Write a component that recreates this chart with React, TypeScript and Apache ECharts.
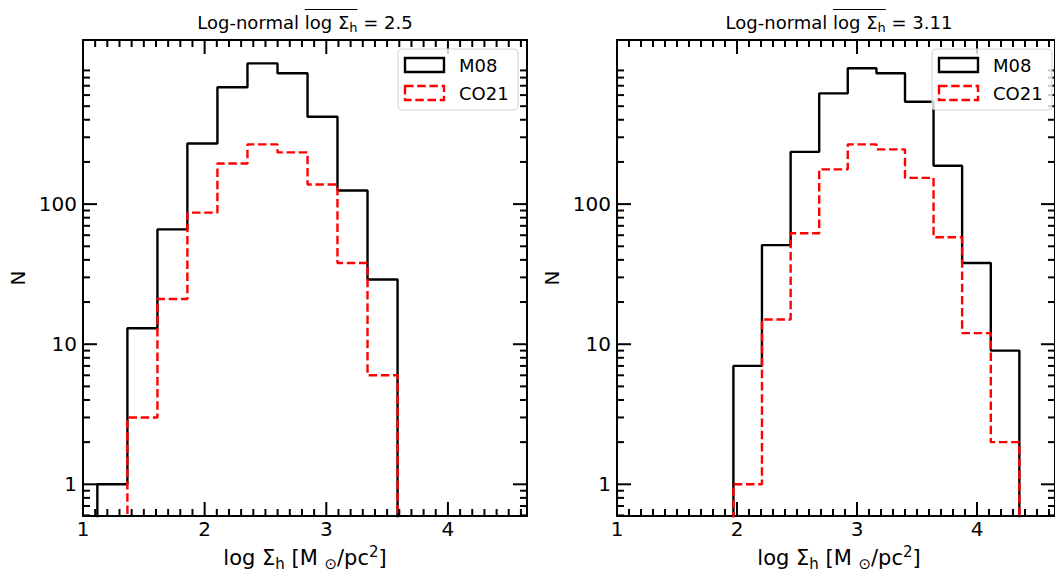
import React, { useEffect, useRef } from "react";
import * as echarts from "echarts";

// ---------- data ----------
const LEFT_EDGES = [1.118, 1.365, 1.612, 1.858, 2.105, 2.352, 2.599, 2.846, 3.092, 3.339, 3.586];
const LEFT_M08 = [1, 13, 66, 271, 682, 1010, 859, 420, 125, 29];
const LEFT_CO21 = [0, 3, 21, 87, 195, 267, 234, 138, 38, 6];

const RIGHT_EDGES = [1.970, 2.208, 2.447, 2.685, 2.923, 3.162, 3.400, 3.638, 3.876, 4.115, 4.353];
const RIGHT_M08 = [7, 51, 236, 617, 932, 859, 538, 188, 38, 9];
const RIGHT_CO21 = [1, 15, 62, 177, 267, 246, 154, 58, 12, 2];

const TITLE_VALUES = ["2.5", "3.11"];
const X_MAJOR = [1, 2, 3, 4];
const Y_MAJOR = [1, 10, 100];
const X_MIN = 1;
const X_MAX = 4.65;
const Y_MIN = 0.594;
const Y_MAX = 1484;
const FLOOR = 0.01;

// ---------- layout ----------
const FONT = "DejaVu Sans";
const GRID_TOP = 40;
const GRID_H = 476;
const GRID_W = 444;
const PANEL_LEFT = [83, 617];
const MAJOR_LEN = 14;
const MINOR_LEN = 7;

function minorX(): number[] {
  const v: number[] = [];
  for (let i = 11; i <= 46; i++) if (i % 10 !== 0) v.push(i / 10);
  return v;
}
function minorY(): number[] {
  const v: number[] = [];
  for (const d of [0.1, 1, 10, 100]) {
    for (let k = 2; k <= 9; k++) {
      const val = +(k * d).toFixed(4);
      if (val >= Y_MIN && val <= Y_MAX) v.push(val);
    }
  }
  return v;
}

function stepPoints(edges: number[], counts: number[]): number[][] {
  const pts: number[][] = [[edges[0], FLOOR]];
  counts.forEach((c, i) => {
    const y = c > 0 ? c : FLOOR;
    pts.push([edges[i], y], [edges[i + 1], y]);
  });
  pts.push([edges[edges.length - 1], FLOOR]);
  return pts;
}

let _ctx: CanvasRenderingContext2D | null = null;
function measure(text: string, size: number): number {
  if (!_ctx) _ctx = document.createElement("canvas").getContext("2d");
  _ctx!.font = `${size}px "${FONT}"`;
  return _ctx!.measureText(text).width;
}

type Piece = { t: string; size: number; dy: number };

function piecesGraphic(pieces: Piece[], cx: number, baseY: number, overline?: [number, number]) {
  const widths = pieces.map((p) => measure(p.t, p.size));
  const total = widths.reduce((a, b) => a + b, 0);
  let x = cx - total / 2;
  const els: any[] = [];
  const starts: number[] = [];
  pieces.forEach((p, i) => {
    starts.push(x);
    els.push({
      type: "text",
      x,
      y: baseY + p.dy - 0.346 * p.size,
      z: 100,
      silent: true,
      style: {
        text: p.t,
        font: `${p.size}px "${FONT}"`,
        fill: "#000",
        textAlign: "left",
        textVerticalAlign: "middle",
      },
    });
    x += widths[i];
  });
  if (overline) {
    const [a, b] = overline;
    els.push({
      type: "line",
      z: 100,
      silent: true,
      shape: { x1: starts[a], y1: 9.5, x2: starts[b] + widths[b], y2: 9.5 },
      style: { stroke: "#000", lineWidth: 1.2 },
    });
  }
  return els;
}

function axisSet(p: number) {
  const lineStyle = { color: "#000", width: 2 };
  const xAxes = [
    {
      gridIndex: p, type: "value", position: "bottom", min: X_MIN, max: X_MAX,
      splitLine: { show: false },
      axisLine: { show: true, onZero: false, lineStyle },
      axisTick: { show: false },
      axisLabel: { show: true, customValues: X_MAJOR, fontSize: 20, color: "#000", fontFamily: FONT, margin: 3 },
    },
    {
      gridIndex: p, type: "value", position: "top", min: X_MIN, max: X_MAX,
      splitLine: { show: false },
      axisLine: { show: true, onZero: false, lineStyle },
      axisTick: { show: false },
      axisLabel: { show: false },
    },
  ];
  const yAxes = [
    {
      gridIndex: p, type: "log", logBase: 10, position: "left", min: Y_MIN, max: Y_MAX,
      splitLine: { show: false },
      axisLine: { show: true, lineStyle },
      axisTick: { show: false },
      axisLabel: { show: true, customValues: Y_MAJOR, fontSize: 20, color: "#000", fontFamily: FONT, margin: 6 },
    },
    {
      gridIndex: p, type: "log", logBase: 10, position: "right", min: Y_MIN, max: Y_MAX,
      splitLine: { show: false },
      axisLine: { show: true, lineStyle },
      axisTick: { show: false },
      axisLabel: { show: false },
    },
  ];
  return { xAxes, yAxes };
}

function tickLine(x1: number, y1: number, x2: number, y2: number) {
  return { type: "line", shape: { x1, y1, x2, y2 }, style: { stroke: "#000", lineWidth: 2 } };
}

function tickSeries(p: number) {
  // y ticks: [xRef, value, length]
  const yData = [
    ...Y_MAJOR.map((v) => [X_MIN, v, MAJOR_LEN]),
    ...minorY().map((v) => [X_MIN, v, MINOR_LEN]),
  ];
  const xData = [
    ...X_MAJOR.map((v) => [v, Y_MIN, MAJOR_LEN]),
    ...minorX().map((v) => [v, Y_MIN, MINOR_LEN]),
  ];
  return [
    {
      type: "custom", name: "yticks", xAxisIndex: 2 * p, yAxisIndex: 2 * p, silent: true, z: 5,
      data: yData,
      renderItem: (_params: any, api: any) => {
        const v = api.value(1);
        const len = api.value(2);
        const a = api.coord([X_MIN, v]);
        const b = api.coord([X_MAX, v]);
        return {
          type: "group",
          children: [tickLine(a[0], a[1], a[0] + len, a[1]), tickLine(b[0] - len, b[1], b[0], b[1])],
        };
      },
    },
    {
      type: "custom", name: "xticks", xAxisIndex: 2 * p, yAxisIndex: 2 * p, silent: true, z: 5,
      data: xData,
      renderItem: (_params: any, api: any) => {
        const v = api.value(0);
        const len = api.value(2);
        const a = api.coord([v, Y_MIN]);
        const b = api.coord([v, Y_MAX]);
        return {
          type: "group",
          children: [tickLine(a[0], a[1], a[0], a[1] - len), tickLine(b[0], b[1], b[0], b[1] + len)],
        };
      },
    },
  ];
}

function legendGraphic(p: number) {
  const right = PANEL_LEFT[p] + GRID_W - 9;
  const bx = right - 120;
  const by = GRID_TOP + 9;
  return [
    {
      type: "rect", z: 90, silent: true,
      shape: { x: bx, y: by, width: 120, height: 61, r: 4 },
      style: { fill: "rgba(255,255,255,0.8)", stroke: "#d4d4d4", lineWidth: 1 },
    },
    {
      type: "rect", z: 100, silent: true,
      shape: { x: bx + 7, y: by + 9, width: 39, height: 14 },
      style: { fill: "none", stroke: "#000", lineWidth: 2.4 },
    },
    {
      type: "rect", z: 100, silent: true,
      shape: { x: bx + 7, y: by + 37, width: 39, height: 14 },
      style: { fill: "none", stroke: "#ff0000", lineWidth: 2.4, lineDash: [8.5, 3.7] },
    },
    {
      type: "text", z: 100, silent: true, x: bx + 61, y: by + 16,
      style: { text: "M08", font: `18px "${FONT}"`, fill: "#000", textVerticalAlign: "middle" },
    },
    {
      type: "text", z: 100, silent: true, x: bx + 61, y: by + 44,
      style: { text: "CO21", font: `18px "${FONT}"`, fill: "#000", textVerticalAlign: "middle" },
    },
  ];
}

export default function App() {
  const ref = useRef<HTMLDivElement>(null);
  useEffect(() => {
    if (!ref.current) return;
    const chart = echarts.init(ref.current, null, { renderer: "svg" });

    const grids = PANEL_LEFT.map((left) => ({ left, top: GRID_TOP, width: GRID_W, height: GRID_H, containLabel: false }));
    const xAxis: any[] = [];
    const yAxis: any[] = [];
    [0, 1].forEach((p) => {
      const { xAxes, yAxes } = axisSet(p);
      xAxis.push(...xAxes);
      yAxis.push(...yAxes);
    });

    const panels = [
      { edges: LEFT_EDGES, m08: LEFT_M08, co21: LEFT_CO21 },
      { edges: RIGHT_EDGES, m08: RIGHT_M08, co21: RIGHT_CO21 },
    ];
    const series: any[] = [];
    panels.forEach((pd, p) => {
      series.push({
        type: "line", name: "M08", xAxisIndex: 2 * p, yAxisIndex: 2 * p,
        data: stepPoints(pd.edges, pd.m08), symbol: "none", clip: true, silent: true,
        lineStyle: { color: "#000", width: 2.4 },
      });
      series.push({
        type: "line", name: "CO21", xAxisIndex: 2 * p, yAxisIndex: 2 * p,
        data: stepPoints(pd.edges, pd.co21), symbol: "none", clip: true, silent: true,
        lineStyle: { color: "#ff0000", width: 2.4, type: [8.5, 3.7] },
      });
      series.push(...tickSeries(p));
    });

    const graphic: any[] = [];
    [0, 1].forEach((p) => {
      const cx = PANEL_LEFT[p] + GRID_W / 2;
      graphic.push(
        ...piecesGraphic(
          [
            { t: "Log-normal ", size: 18, dy: 0 },
            { t: "log Σ", size: 18, dy: 0 },
            { t: "h", size: 13, dy: 4 },
            { t: " = " + TITLE_VALUES[p], size: 18, dy: 0 },
          ],
          cx, 28.3, [1, 2]
        )
      );
      graphic.push(
        ...piecesGraphic(
          [
            { t: "log Σ", size: 21, dy: 0 },
            { t: "h", size: 15, dy: 4 },
            { t: " [M ", size: 21, dy: 0 },
            { t: "⊙", size: 15, dy: 4 },
            { t: "/pc", size: 21, dy: 0 },
            { t: "2", size: 15, dy: -8 },
            { t: "]", size: 21, dy: 0 },
          ],
          cx, 565
        )
      );
      graphic.push({
        type: "text", z: 100, silent: true,
        x: PANEL_LEFT[p] - 65, y: GRID_TOP + GRID_H / 2, rotation: Math.PI / 2,
        style: { text: "N", font: `20px "${FONT}"`, fill: "#000", textAlign: "center", textVerticalAlign: "middle" },
      });
      graphic.push(...legendGraphic(p));
    });

    chart.setOption({
      animation: false,
      backgroundColor: "#fff",
      grid: grids,
      xAxis,
      yAxis,
      series,
      graphic,
    });
    return () => chart.dispose();
  }, []);
  return <div ref={ref} style={{ position: "fixed", left: 0, top: 0, width: 1055, height: 572 }} />;
}
